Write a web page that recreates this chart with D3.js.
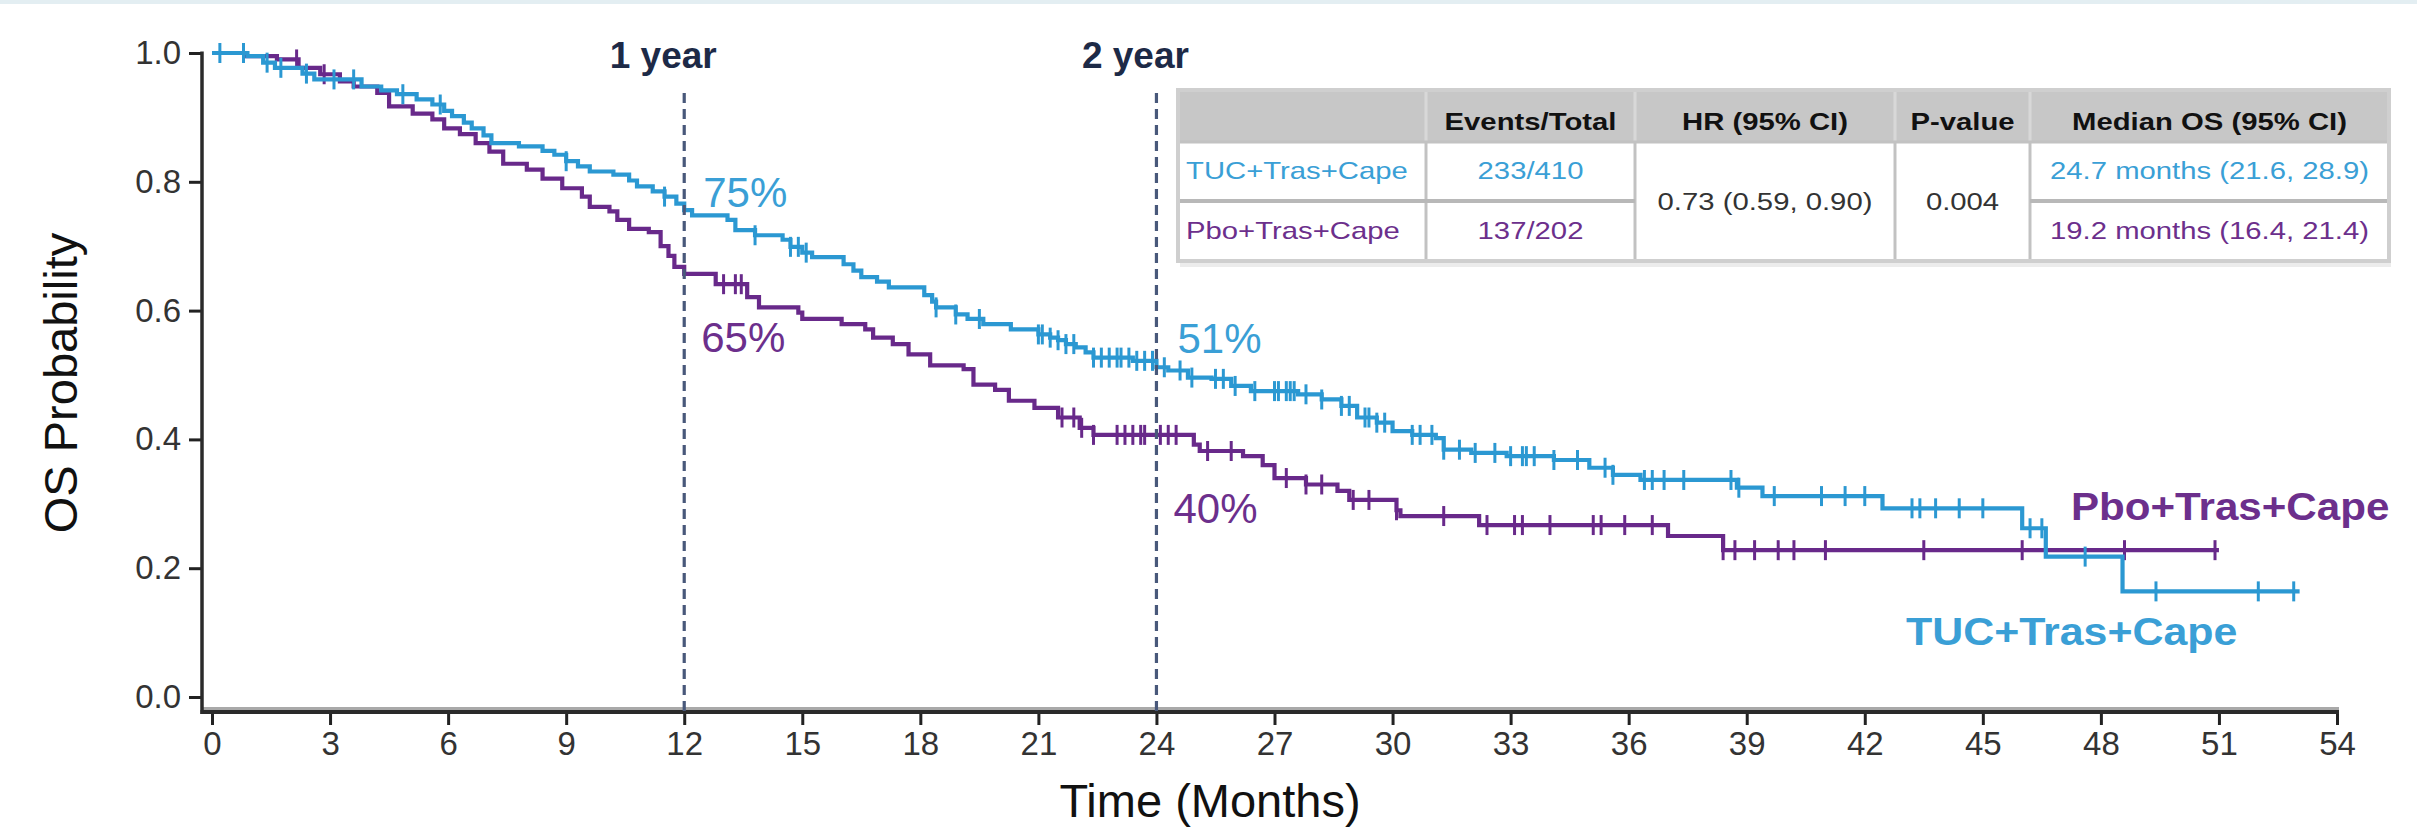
<!DOCTYPE html>
<html><head><meta charset="utf-8">
<script src="https://cdn.jsdelivr.net/npm/d3@7"></script>
<style>
html,body{margin:0;padding:0;background:#fff;}
svg{display:block;font-family:"Liberation Sans",Arial,sans-serif;}
</style></head>
<body>
<svg id="chart" width="2417" height="836"></svg>
<script>
// ---------------- DATA ----------------
const xTicks = [0,3,6,9,12,15,18,21,24,27,30,33,36,39,42,45,48,51,54];
const yTicks = [0.0,0.2,0.4,0.6,0.8,1.0];

const tucTime = [0,0.9,1.3,1.6,2.3,2.6,3.8,4.3,4.7,5.2,5.6,5.9,6.1,6.4,6.6,6.9,7.1,7.8,8.4,8.7,9.0,9.3,9.6,10.2,10.6,10.8,11.2,11.5,11.8,12.0,12.2,13.1,13.3,13.8,14.5,14.7,15.0,15.25,16.05,16.3,16.5,16.9,17.2,18.1,18.3,18.4,18.9,19.2,19.6,20.3,21.0,21.3,21.5,21.7,21.95,22.2,22.4,23.4,24.0,24.3,24.8,25.4,25.9,26.4,27.6,28.2,28.7,29.1,29.6,30.0,30.5,31.1,31.3,32.0,32.9,34.1,35.0,35.6,36.3,38.75,39.4,42.45,46.0,46.6,48.55];
const tucSurv = [1.0,0.995,0.985,0.977,0.968,0.959,0.948,0.942,0.936,0.928,0.92,0.91,0.902,0.892,0.883,0.872,0.86,0.855,0.848,0.842,0.832,0.824,0.816,0.811,0.802,0.793,0.785,0.777,0.766,0.756,0.748,0.741,0.725,0.717,0.71,0.699,0.69,0.683,0.672,0.662,0.652,0.645,0.636,0.624,0.614,0.605,0.594,0.587,0.579,0.571,0.563,0.558,0.554,0.548,0.543,0.535,0.527,0.522,0.512,0.507,0.496,0.494,0.483,0.475,0.47,0.462,0.452,0.434,0.426,0.413,0.407,0.402,0.384,0.379,0.374,0.368,0.356,0.345,0.337,0.325,0.312,0.293,0.262,0.218,0.164];
const tucEnd = 53.05;
const tucCensor = [0.2,0.8,1.4,1.75,2.4,3.1,3.6,4.85,5.8,9.0,11.5,13.8,14.7,14.9,15.1,18.4,18.9,19.5,21.0,21.1,21.3,21.5,21.7,21.9,22.4,22.6,22.8,23.0,23.1,23.3,23.5,23.7,23.9,24.2,24.6,24.9,25.5,25.7,26.0,26.5,27.0,27.1,27.3,27.4,27.5,27.8,28.2,28.7,28.9,29.3,29.4,29.6,29.8,30.5,30.7,31.0,31.3,31.7,32.1,32.6,33.0,33.3,33.4,33.6,34.1,34.7,35.4,35.6,36.4,36.6,36.9,37.4,38.6,38.8,39.7,40.9,41.5,42.0,43.2,43.4,43.8,44.4,45.0,46.2,46.5,47.6,49.4,52.0,52.9];

const pboTime = [0,0.85,1.65,2.2,2.75,3.25,3.6,4.2,4.5,5.1,5.6,5.9,6.3,6.7,7.05,7.4,8.0,8.4,8.9,9.4,9.6,10.1,10.3,10.6,11.1,11.4,11.6,11.75,12.0,12.8,13.6,13.9,14.9,15.0,16.0,16.6,16.8,17.3,17.7,18.25,19.1,19.35,19.9,20.25,20.9,21.5,22.05,22.4,24.95,25.1,26.2,26.7,27.0,27.8,28.6,28.9,30.1,30.2,32.2,37.0,38.4];
const pboSurv = [1.0,0.995,0.99,0.977,0.967,0.956,0.948,0.938,0.917,0.906,0.897,0.883,0.874,0.86,0.847,0.828,0.819,0.805,0.79,0.777,0.761,0.754,0.741,0.727,0.722,0.70,0.685,0.668,0.657,0.641,0.621,0.605,0.597,0.587,0.579,0.571,0.558,0.548,0.532,0.515,0.509,0.485,0.477,0.46,0.449,0.434,0.418,0.407,0.392,0.382,0.374,0.36,0.34,0.33,0.32,0.306,0.29,0.281,0.267,0.25,0.228];
const pboEnd = 51.0;
const pboCensor = [2.15,2.85,13.0,13.3,13.45,21.6,21.9,22.1,22.4,23.0,23.2,23.4,23.6,23.7,24.1,24.3,24.5,25.3,25.9,27.3,27.8,28.2,29.0,29.4,30.1,31.3,32.4,33.1,33.3,34.0,35.1,35.3,35.9,36.6,38.4,38.7,39.2,39.8,40.2,41.0,43.5,46.0,48.6,50.9];

const seriesNames = ["TUC+Tras+Cape","Pbo+Tras+Cape"];
const yearMarks = [12,24];
const yearLabels = ["1 year","2 year"];
const tucYearPct = ["75%","51%"];
const pboYearPct = ["65%","40%"];

const tableHeader = ["","Events/Total","HR (95% CI)","P-value","Median OS (95% CI)"];
const tableEvents = ["233/410","137/202"];
const tableHR = "0.73 (0.59, 0.90)";
const tablePValue = "0.004";
const tableMedian = ["24.7 months (21.6, 28.9)","19.2 months (16.4, 21.4)"];

// ---------------- STYLE ----------------
const BLUE = "#2b98d2", PURPLE = "#68298a";
const BLUE_T = "#3a9fd6", PURPLE_T = "#6c2f8c";
const NAVY = "#1d2a47";

const svg = d3.select("#chart");
svg.append("rect").attr("x",0).attr("y",0).attr("width",2417).attr("height",4).attr("fill","#e3eef2");

const x = d3.scaleLinear().domain([0,54]).range([212,2337]);
const y = d3.scaleLinear().domain([0,1]).range([697,53]);
const axisY = 712, axisX = 202;

// x axis
const gx = svg.append("g").attr("transform",`translate(0,${axisY})`)
  .call(d3.axisBottom(x).tickValues(xTicks).tickSize(13).tickSizeOuter(0).tickFormat(d3.format("d")));
gx.select(".domain").remove();
gx.selectAll(".tick line").attr("stroke","#222").attr("stroke-width",3);
gx.selectAll(".tick text").attr("font-size",33).attr("fill","#333").attr("y",20).attr("dy","0.71em")
  .attr("font-family","Liberation Sans, Arial, sans-serif");
svg.append("line").attr("x1",axisX).attr("x2",x.range()[1]+2).attr("y1",axisY-3.5).attr("y2",axisY-3.5)
  .attr("stroke","#a9a9a9").attr("stroke-width",3);
svg.append("line").attr("x1",axisX-1.5).attr("x2",x.range()[1]+2).attr("y1",axisY).attr("y2",axisY)
  .attr("stroke","#2a2a2a").attr("stroke-width",4);

// y axis
const gy = svg.append("g").attr("transform",`translate(${axisX},0)`)
  .call(d3.axisLeft(y).tickValues(yTicks).tickSize(13).tickSizeOuter(0).tickFormat(d3.format(".1f")));
gy.select(".domain").remove();
gy.selectAll(".tick line").attr("stroke","#222").attr("stroke-width",3);
gy.selectAll(".tick text").attr("font-size",33).attr("fill","#333").attr("x",-21)
  .attr("font-family","Liberation Sans, Arial, sans-serif");
svg.append("line").attr("x1",axisX).attr("x2",axisX).attr("y1",y(1)-1.5).attr("y2",axisY+2)
  .attr("stroke","#2a2a2a").attr("stroke-width",3.5);

// axis titles
svg.append("text").attr("transform",`translate(77,383) rotate(-90)`).attr("text-anchor","middle")
  .attr("font-size",47).attr("fill","#111").text("OS Probability");
svg.append("text").attr("x",1210).attr("y",817).attr("text-anchor","middle")
  .attr("font-size",47).attr("fill","#111").text("Time (Months)");

// KM curves
function stepFn(times, survs){
  return t => { let s = survs[0]; for(let i=0;i<times.length;i++){ if(times[i]<=t) s = survs[i]; } return s; };
}
const line = d3.line().x(d=>x(d[0])).y(d=>y(d[1])).curve(d3.curveStepAfter);
function drawArm(times, survs, end, censor, color){
  const pts = d3.zip(times, survs);
  pts.push([end, survs[survs.length-1]]);
  svg.append("path").datum(pts).attr("d",line).attr("fill","none")
    .attr("stroke",color).attr("stroke-width",4.2).attr("stroke-linejoin","miter");
  const f = stepFn(times, survs);
  svg.append("g").selectAll("line").data(censor).join("line")
    .attr("x1",d=>x(d)).attr("x2",d=>x(d))
    .attr("y1",d=>y(f(d))-10).attr("y2",d=>y(f(d))+10)
    .attr("stroke",color).attr("stroke-width",3);
}
drawArm(pboTime,pboSurv,pboEnd,pboCensor,PURPLE);
drawArm(tucTime,tucSurv,tucEnd,tucCensor,BLUE);

// year reference lines
yearMarks.forEach((m,i)=>{
  svg.append("line").attr("x1",x(m)).attr("x2",x(m)).attr("y1",93).attr("y2",axisY)
    .attr("stroke","#48587a").attr("stroke-width",3.2).attr("stroke-dasharray","10,6");
  svg.append("text").attr("x",x(m)-21).attr("y",68).attr("text-anchor","middle")
    .attr("font-size",37).attr("font-weight","bold").attr("fill",NAVY).text(yearLabels[i]);
});

// percent annotations
const pctFont = 42;
svg.append("text").attr("x",x(12)+19).attr("y",207).attr("font-size",pctFont).attr("fill",BLUE_T).text(tucYearPct[0]);
svg.append("text").attr("x",x(12)+17).attr("y",352).attr("font-size",pctFont).attr("fill",PURPLE_T).text(pboYearPct[0]);
svg.append("text").attr("x",x(24)+21).attr("y",353).attr("font-size",pctFont).attr("fill",BLUE_T).text(tucYearPct[1]);
svg.append("text").attr("x",x(24)+17).attr("y",523).attr("font-size",pctFont).attr("fill",PURPLE_T).text(pboYearPct[1]);

// curve labels
svg.append("text").attr("transform","translate(2071,520) scale(1.08,1)").attr("font-size",39).attr("font-weight","bold")
  .attr("fill",PURPLE_T).text(seriesNames[1]);
svg.append("text").attr("transform","translate(1906,645) scale(1.1,1)").attr("font-size",39).attr("font-weight","bold")
  .attr("fill",BLUE_T).text(seriesNames[0]);

// ---------------- TABLE ----------------
const colX = [1178,1426,1635,1895,2030,2389];
const rowY = [90,142,201,261];
const tg = svg.append("g");
tg.append("rect").attr("x",colX[0]).attr("y",rowY[0]).attr("width",colX[5]-colX[0]).attr("height",rowY[3]-rowY[0])
  .attr("fill","#fff");
tg.append("rect").attr("x",colX[0]).attr("y",rowY[0]).attr("width",colX[5]-colX[0]).attr("height",rowY[1]-rowY[0])
  .attr("fill","#c7c7c7");
tg.append("rect").attr("x",colX[0]+2).attr("y",rowY[3]+1).attr("width",colX[5]-colX[0]).attr("height",5).attr("fill","#ececec");
const gridC = "#c2c2c2";
colX.slice(1,5).forEach(cx=>{
  tg.append("line").attr("x1",cx).attr("x2",cx).attr("y1",rowY[0]).attr("y2",rowY[1]).attr("stroke","#d8d8d8").attr("stroke-width",3);
  tg.append("line").attr("x1",cx).attr("x2",cx).attr("y1",rowY[1]).attr("y2",rowY[3]).attr("stroke",gridC).attr("stroke-width",3);
});
tg.append("line").attr("x1",colX[0]).attr("x2",colX[5]).attr("y1",rowY[1]).attr("y2",rowY[1]).attr("stroke",gridC).attr("stroke-width",3);
[[0,2],[4,5]].forEach(([a,b])=>{
  tg.append("line").attr("x1",colX[a]).attr("x2",colX[b]).attr("y1",rowY[2]).attr("y2",rowY[2]).attr("stroke","#b8b8b8").attr("stroke-width",4);
});
tg.append("rect").attr("x",colX[0]).attr("y",rowY[0]).attr("width",colX[5]-colX[0]).attr("height",rowY[3]-rowY[0])
  .attr("fill","none").attr("stroke","#cfcfcf").attr("stroke-width",4);

const sx = 1.22, tfs = 24;
function ttext(cx, cy, str, color, anchor, bold){
  tg.append("text").attr("transform",`translate(${cx},${cy}) scale(${sx},1)`)
    .attr("text-anchor",anchor).attr("font-size",tfs).attr("font-weight",bold?"bold":"normal")
    .attr("fill",color).text(str);
}
const mid = i => (colX[i]+colX[i+1])/2;
tableHeader.forEach((h,i)=>{ if(h) ttext(mid(i),130,h,"#111","middle",true); });
const armColors = [BLUE_T, PURPLE_T];
const rowBase = [179,239];
seriesNames.forEach((n,r)=>{
  ttext(colX[0]+8,rowBase[r],n,armColors[r],"start",false);
  ttext(mid(1),rowBase[r],tableEvents[r],armColors[r],"middle",false);
  ttext(mid(4),rowBase[r],tableMedian[r],armColors[r],"middle",false);
});
ttext(mid(2),210,tableHR,"#333","middle",false);
ttext(mid(3),210,tablePValue,"#333","middle",false);
</script>
</body></html>
